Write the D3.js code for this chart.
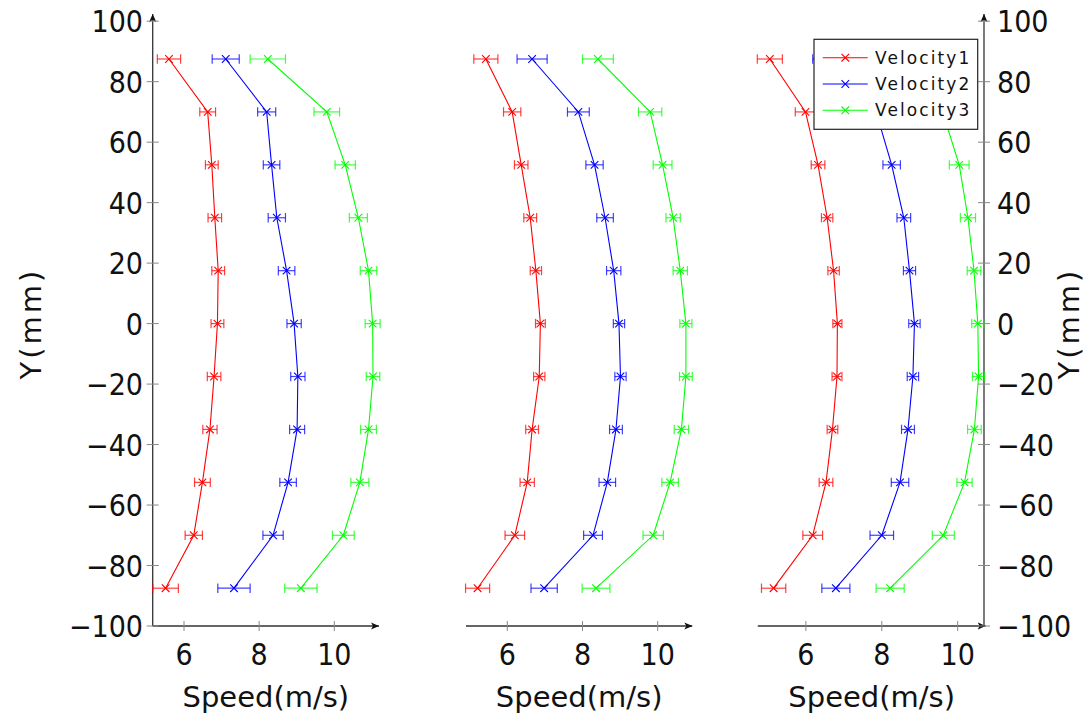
<!DOCTYPE html>
<html>
<head>
<meta charset="utf-8">
<script src="https://cdn.jsdelivr.net/npm/d3@7"></script>
<style>
  html, body { margin: 0; padding: 0; background: #fff; }
  svg { display: block; }
  .tick-label { font-family: "Liberation Sans Narrow", "DejaVu Sans Condensed", "Liberation Sans", sans-serif; font-size: 30px; fill: #111; }
  .axis-title { font-family: "DejaVu Sans", sans-serif; font-size: 29px; fill: #111; }
  .legend-label { font-family: "DejaVu Sans", sans-serif; font-size: 17px; letter-spacing: 2.1px; fill: #111; }
</style>
</head>
<body>
<svg id="chart" width="1092" height="724"></svg>
<script>
// Measurement heights across the channel (mm)
const yPositions = [87.5, 70, 52.5, 35, 17.5, 0, -17.5, -35, -52.5, -70, -87.5];
const yTicks = [-100, -80, -60, -40, -20, 0, 20, 40, 60, 80, 100];
const xTicks = [6, 8, 10];
const seriesNames = ["Velocity1", "Velocity2", "Velocity3"];

// Profile 1
const leftVelocity1 = [5.60, 6.63, 6.74, 6.82, 6.91, 6.89, 6.80, 6.69, 6.49, 6.26, 5.51];
const leftVelocity1Err = [0.31, 0.21, 0.17, 0.18, 0.17, 0.17, 0.18, 0.19, 0.21, 0.23, 0.34];
const leftVelocity2 = [7.11, 8.20, 8.33, 8.47, 8.73, 8.93, 9.03, 9.01, 8.77, 8.37, 7.33];
const leftVelocity2Err = [0.36, 0.24, 0.22, 0.23, 0.22, 0.19, 0.19, 0.20, 0.22, 0.27, 0.43];
const leftVelocity3 = [8.23, 9.80, 10.29, 10.64, 10.91, 11.02, 11.03, 10.91, 10.68, 10.24, 9.11];
const leftVelocity3Err = [0.47, 0.34, 0.27, 0.24, 0.22, 0.20, 0.18, 0.21, 0.24, 0.29, 0.43];

// Profile 2
const middleVelocity1 = [5.43, 6.13, 6.37, 6.61, 6.76, 6.88, 6.85, 6.66, 6.53, 6.20, 5.21];
const middleVelocity1Err = [0.32, 0.23, 0.18, 0.17, 0.15, 0.13, 0.15, 0.17, 0.19, 0.26, 0.32];
const middleVelocity2 = [6.66, 7.89, 8.32, 8.60, 8.83, 8.97, 9.01, 8.89, 8.66, 8.28, 6.98];
const middleVelocity2Err = [0.40, 0.29, 0.23, 0.22, 0.19, 0.15, 0.15, 0.17, 0.22, 0.25, 0.35];
const middleVelocity3 = [8.41, 9.80, 10.13, 10.41, 10.60, 10.75, 10.75, 10.63, 10.33, 9.88, 8.36];
const middleVelocity3Err = [0.41, 0.31, 0.25, 0.19, 0.19, 0.16, 0.17, 0.19, 0.22, 0.27, 0.37];

// Profile 3
const rightVelocity1 = [5.05, 5.99, 6.32, 6.56, 6.73, 6.83, 6.82, 6.70, 6.53, 6.18, 5.15];
const rightVelocity1Err = [0.33, 0.27, 0.18, 0.15, 0.15, 0.12, 0.13, 0.14, 0.18, 0.26, 0.32];
const rightVelocity2 = [6.55, 7.85, 8.26, 8.58, 8.73, 8.86, 8.82, 8.69, 8.48, 8.00, 6.79];
const rightVelocity2Err = [0.37, 0.29, 0.23, 0.18, 0.16, 0.15, 0.15, 0.17, 0.23, 0.31, 0.37];
const rightVelocity3 = [8.15, 9.60, 10.04, 10.27, 10.43, 10.53, 10.55, 10.44, 10.18, 9.62, 8.22];
const rightVelocity3Err = [0.40, 0.30, 0.26, 0.20, 0.18, 0.16, 0.16, 0.18, 0.20, 0.29, 0.37];

const colors = ["#ff0000", "#0000ff", "#00ff00"];

// Panel layout: pixel extent and axis limits of each subplot
const panels = [
  { xRange: [152.7, 372], xDomain: [5.167, 11.003], arrowTip: 379, yAxis: "left",
    values: [leftVelocity1, leftVelocity2, leftVelocity3],
    errors: [leftVelocity1Err, leftVelocity2Err, leftVelocity3Err] },
  { xRange: [466, 685], xDomain: [4.902, 10.726], arrowTip: 692.3, yAxis: null,
    values: [middleVelocity1, middleVelocity2, middleVelocity3],
    errors: [middleVelocity1Err, middleVelocity2Err, middleVelocity3Err] },
  { xRange: [757.8, 984], xDomain: [4.733, 10.693], arrowTip: 985.6, yAxis: "right",
    values: [rightVelocity1, rightVelocity2, rightVelocity3],
    errors: [rightVelocity1Err, rightVelocity2Err, rightVelocity3Err] }
];

const svg = d3.select("#chart");
const y = d3.scaleLinear().domain([-100, 100]).range([626, 21.2]);
const yArrowTip = 14;
const axisColor = "#333";
const tickColor = "#888";

svg.append("defs").append("marker")
  .attr("id", "arrow")
  .attr("viewBox", "0 0 10 10")
  .attr("refX", 10).attr("refY", 5)
  .attr("markerUnits", "userSpaceOnUse")
  .attr("markerWidth", 8).attr("markerHeight", 8)
  .attr("orient", "auto")
  .append("path")
  .attr("d", "M0,0.5 L10,5 L0,9.5 L2.5,5 Z")
  .attr("fill", "#111");

const fmt = d => (d < 0 ? "\u2212" + Math.abs(d) : String(d));

panels.forEach(p => {
  const x = d3.scaleLinear().domain(p.xDomain).range(p.xRange);
  const g = svg.append("g");

  // x axis line with arrow
  g.append("line")
    .attr("x1", p.xRange[0]).attr("x2", p.arrowTip)
    .attr("y1", y(-100)).attr("y2", y(-100))
    .attr("stroke", axisColor).attr("stroke-width", 1.3)
    .attr("marker-end", "url(#arrow)");

  g.selectAll(".xtick").data(xTicks).join("line")
    .attr("x1", d => x(d)).attr("x2", d => x(d))
    .attr("y1", y(-100) - 5).attr("y2", y(-100) + 5)
    .attr("stroke", tickColor).attr("stroke-width", 1);

  g.selectAll(".xlabel").data(xTicks).join("text")
    .attr("class", "tick-label")
    .attr("x", d => x(d)).attr("y", 665)
    .attr("text-anchor", "middle")
    .text(d => d);

  g.append("text")
    .attr("class", "axis-title")
    .attr("x", (p.xRange[0] + p.arrowTip) / 2).attr("y", 707)
    .attr("text-anchor", "middle")
    .text("Speed(m/s)");

  // y axis (outer panels only)
  if (p.yAxis) {
    const ax = p.yAxis === "left" ? p.xRange[0] : p.xRange[1];
    g.append("line")
      .attr("x1", ax).attr("x2", ax)
      .attr("y1", y(-100)).attr("y2", yArrowTip)
      .attr("stroke", axisColor).attr("stroke-width", 1.3)
      .attr("marker-end", "url(#arrow)");

    g.selectAll(".ytick").data(yTicks).join("line")
      .attr("x1", ax - 6).attr("x2", ax + 6)
      .attr("y1", d => y(d)).attr("y2", d => y(d))
      .attr("stroke", tickColor).attr("stroke-width", 1);

    const left = p.yAxis === "left";
    g.selectAll(".ylabel").data(yTicks).join("text")
      .attr("class", "tick-label")
      .attr("x", left ? 143 : 997)
      .attr("y", d => y(d) + 11)
      .attr("text-anchor", left ? "end" : "start")
      .text(fmt);

    const tx = left ? 41 : 1079;
    g.append("text")
      .attr("class", "axis-title")
      .attr("transform", `translate(${tx},${y(0)}) rotate(-90)`)
      .attr("text-anchor", "middle")
      .attr("letter-spacing", "3px")
      .text("Y(mm)");
  }

  // series: lines, error bars, markers
  p.values.forEach((vals, si) => {
    const errs = p.errors[si];
    const pts = yPositions.map((yy, i) => ({ v: vals[i], e: errs[i], y: yy }));
    const color = colors[si];
    const sg = g.append("g");

    sg.append("path")
      .datum(pts)
      .attr("fill", "none")
      .attr("stroke", color)
      .attr("stroke-width", 1.1)
      .attr("d", d3.line().x(d => x(d.v)).y(d => y(d.y)));

    const eb = sg.selectAll(".err").data(pts).join("g")
      .attr("stroke", color).attr("stroke-width", 1.2).attr("stroke-opacity", 0.75);
    eb.append("line")
      .attr("x1", d => x(d.v - d.e)).attr("x2", d => x(d.v + d.e))
      .attr("y1", d => y(d.y)).attr("y2", d => y(d.y));
    eb.append("line")
      .attr("x1", d => x(d.v - d.e)).attr("x2", d => x(d.v - d.e))
      .attr("y1", d => y(d.y) - 4.7).attr("y2", d => y(d.y) + 4.7);
    eb.append("line")
      .attr("x1", d => x(d.v + d.e)).attr("x2", d => x(d.v + d.e))
      .attr("y1", d => y(d.y) - 4.7).attr("y2", d => y(d.y) + 4.7);

    sg.selectAll(".mk").data(pts).join("path")
      .attr("stroke", color).attr("stroke-width", 1.1).attr("fill", "none")
      .attr("d", d => {
        const cx = x(d.v), cy = y(d.y), r = 3.8;
        return `M${cx - r},${cy - r}L${cx + r},${cy + r}M${cx - r},${cy + r}L${cx + r},${cy - r}`;
      });
  });

  // legend in the last panel
  if (p.yAxis === "right") {
    const lg = svg.append("g");
    const bx = 814, by = 39.3, bw = 163.7, bh = 90;
    lg.append("rect")
      .attr("x", bx).attr("y", by).attr("width", bw).attr("height", bh)
      .attr("fill", "#fff").attr("stroke", "#222").attr("stroke-width", 1.2);
    const rowY = d3.scalePoint().domain(seriesNames).range([57.7, 110.3]);
    seriesNames.forEach((name, i) => {
      const ry = rowY(name);
      lg.append("line")
        .attr("x1", 822.7).attr("x2", 867.7).attr("y1", ry).attr("y2", ry)
        .attr("stroke", colors[i]).attr("stroke-width", 1.1);
      const cx = 845.3, r = 3.8;
      lg.append("path")
        .attr("d", `M${cx - r},${ry - r}L${cx + r},${ry + r}M${cx - r},${ry + r}L${cx + r},${ry - r}`)
        .attr("stroke", colors[i]).attr("stroke-width", 1.1);
      lg.append("text")
        .attr("class", "legend-label")
        .attr("x", 875).attr("y", ry + 6)
        .text(name);
    });
  }
});
</script>
</body>
</html>
